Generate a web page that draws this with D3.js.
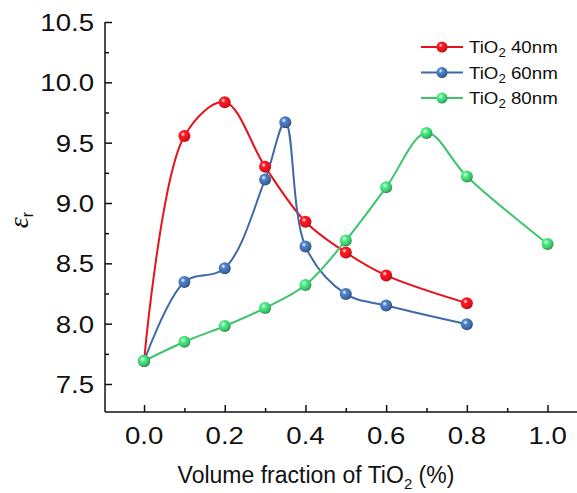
<!DOCTYPE html>
<html>
<head>
<meta charset="utf-8">
<script src="https://cdn.jsdelivr.net/npm/d3@7"></script>
<style>
html, body { margin: 0; padding: 0; background: #fff; }
svg { display: block; font-family: "Liberation Sans", Arial, sans-serif; }
</style>
</head>
<body>
<svg id="chart" width="577" height="493"></svg>
<script>
// values
const fracs40 = [0.0, 0.1, 0.2, 0.3, 0.4, 0.5, 0.6, 0.8]
const eps40 = [7.69, 9.555, 9.835, 9.30, 8.845, 8.59, 8.40, 8.17]
const fracs60 = [0.0, 0.1, 0.2, 0.3, 0.35, 0.4, 0.5, 0.6, 0.8]
const eps60 = [7.69, 8.345, 8.46, 9.195, 9.67, 8.64, 8.245, 8.15, 7.995]
const fracs80 = [0.0, 0.1, 0.2, 0.3, 0.4, 0.5, 0.6, 0.7, 0.8, 1.0]
const eps80 = [7.69, 7.85, 7.98, 8.13, 8.32, 8.69, 9.13, 9.58, 9.22, 8.66]
const seriesNames = ['40nm', '60nm', '80nm']
const seriesColors = ['#e8121c', '#3f6aa6', '#3cc46c']
const xTicks = [0.0, 0.2, 0.4, 0.6, 0.8, 1.0]
const yTicks = [7.5, 8.0, 8.5, 9.0, 9.5, 10.0, 10.5]

const series = [
  { name: seriesNames[0], color: seriesColors[0], pts: fracs40.map((f, i) => [f, eps40[i]]) },
  { name: seriesNames[1], color: seriesColors[1], pts: fracs60.map((f, i) => [f, eps60[i]]) },
  { name: seriesNames[2], color: seriesColors[2], pts: fracs80.map((f, i) => [f, eps80[i]]) }
]

const svg = d3.select('#chart')
const x = d3.scaleLinear().domain([-0.0968, 1.073]).range([105, 577])
const y = d3.scaleLinear().domain([7.268, 10.5]).range([412, 22])

// sphere-like marker fills
const defs = svg.append('defs')
series.forEach((s, i) => {
  const g = defs.append('radialGradient').attr('id', 'ball' + i)
    .attr('cx', '38%').attr('cy', '35%').attr('r', '65%')
  g.append('stop').attr('offset', '0%').attr('stop-color', '#fff')
  g.append('stop').attr('offset', '30%').attr('stop-color', d3.color(s.color).brighter(0.6))
  g.append('stop').attr('offset', '75%').attr('stop-color', s.color)
  g.append('stop').attr('offset', '100%').attr('stop-color', d3.color(s.color).darker(0.8))
})

// axes, ticks inside
const xMinor = d3.range(0.1, 1.0, 0.2)
const yMinor = d3.range(7.75, 10.5, 0.5)
const xAxis = svg.append('g').attr('transform', 'translate(0,412)')
xAxis.call(d3.axisTop(x).tickValues(xTicks).tickSize(7).tickFormat(''))
xAxis.append('g').call(d3.axisTop(x).tickValues(xMinor).tickSize(4).tickFormat(''))
xAxis.selectAll('g g .domain').remove()
const yAxis = svg.append('g').attr('transform', 'translate(105,0)')
yAxis.call(d3.axisRight(y).tickValues(yTicks).tickSize(7).tickFormat(''))
yAxis.append('g').call(d3.axisRight(y).tickValues(yMinor).tickSize(4).tickFormat(''))
yAxis.selectAll('g g .domain').remove()
svg.selectAll('.domain, .tick line').attr('stroke', '#111').attr('stroke-width', 1.5)
xAxis.select('.domain').attr('d', 'M105,0H577')
yAxis.select('.domain').attr('d', 'M0,412V22')

// tick labels are drawn a bit wide in the original
svg.append('g').selectAll('text').data(xTicks).join('text')
  .attr('transform', d => `translate(${x(d)},444) scale(1.2,1)`).attr('text-anchor', 'middle')
  .attr('font-size', 23).attr('fill', '#111').text(d => d.toFixed(1))
svg.append('g').selectAll('text').data(yTicks).join('text')
  .attr('transform', d => `translate(94,${y(d) + 9}) scale(1.2,1)`).attr('text-anchor', 'end')
  .attr('font-size', 23).attr('fill', '#111').text(d => d.toFixed(1))

const xt = svg.append('text').attr('x', 316).attr('y', 483).attr('text-anchor', 'middle')
  .attr('font-size', 23).attr('fill', '#111')
xt.append('tspan').text('Volume fraction of TiO')
xt.append('tspan').attr('font-size', 15).attr('dy', 6).text('2')
xt.append('tspan').attr('dy', -6).text(' (%)')

const yt = svg.append('text').attr('transform', 'translate(28,220) rotate(-90)')
  .attr('text-anchor', 'middle').attr('font-size', 28).attr('fill', '#111')
yt.append('tspan').attr('font-style', 'italic').attr('font-family', '"Liberation Serif", serif').text('ε')
yt.append('tspan').attr('font-size', 16).attr('dy', 5).text('r')

// curves and markers
const line = d3.line().x(d => x(d[0])).y(d => y(d[1])).curve(d3.curveCatmullRom.alpha(0.5))
series.forEach(s => {
  svg.append('path').attr('d', line(s.pts)).attr('fill', 'none')
    .attr('stroke', s.color).attr('stroke-width', 2)
})
series.forEach((s, i) => {
  svg.append('g').selectAll('circle').data(s.pts).join('circle')
    .attr('cx', d => x(d[0])).attr('cy', d => y(d[1])).attr('r', 6)
    .attr('fill', `url(#ball${i})`)
})

// legend
const leg = svg.append('g')
series.forEach((s, i) => {
  const ly = 47 + i * 25.5
  leg.append('line').attr('x1', 421).attr('x2', 463).attr('y1', ly).attr('y2', ly)
    .attr('stroke', s.color).attr('stroke-width', 2)
  leg.append('circle').attr('cx', 442).attr('cy', ly).attr('r', 5.5).attr('fill', `url(#ball${i})`)
  const t = leg.append('text').attr('transform', `translate(469,${ly + 6}) scale(1.1,1)`)
    .attr('font-size', 17).attr('fill', '#111')
  t.append('tspan').text('TiO')
  t.append('tspan').attr('font-size', 12).attr('dy', 4).text('2')
  t.append('tspan').attr('dy', -4).text(' ' + s.name)
})
</script>
</body>
</html>
